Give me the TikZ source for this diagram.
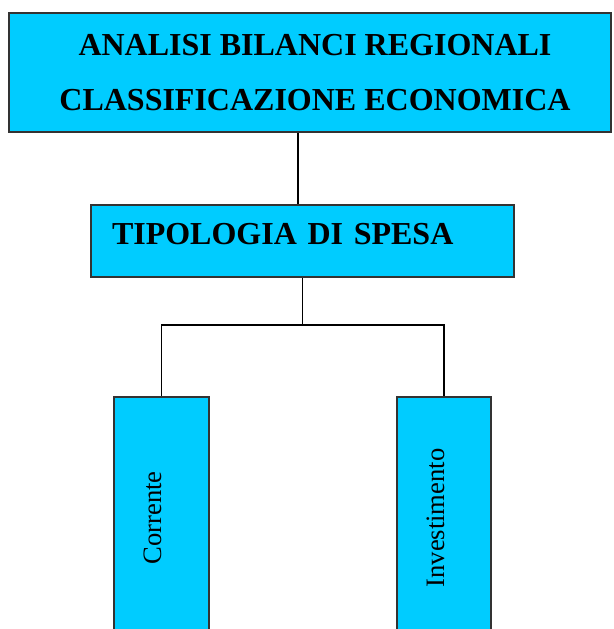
\documentclass[tikz,border=0pt]{standalone}
\usepackage{fontspec}
\setmainfont{Liberation Serif}
\definecolor{boxcyan}{RGB}{0,204,255}

\begin{document}
\begin{tikzpicture}[x=1pt,y=1pt,line width=1.5pt,
	box/.style={draw=black!80,fill=boxcyan,inner sep=0pt},
	title/.style={font=\fontsize{32}{55}\selectfont\bfseries},
	leaf/.style={box,rotate=90,minimum width=242,minimum height=95,font=\fontsize{26.6}{30}\selectfont,text height=10,text depth=10}]
					\clip (0,0) rectangle (613,629);
					\node[box,title,align=center,minimum width=602,minimum height=119] (analisi) at (310,556.5) {\hspace*{10pt}ANALISI BILANCI REGIONALI\\\hspace*{10pt}CLASSIFICAZIONE ECONOMICA};
					\node[box,title,align=left,text width=381,inner xsep=21,minimum height=72,text height=22,text depth=14] (tipo) at (302.5,388) {TIPOLOGIA DI SPESA};
					\node[leaf] (corr) at (161.5,111) {Corrente};
					\node[leaf,minimum height=94] (inv) at (444,111) {Investimento};
					\coordinate (split) at (302.5,304);
					\draw ([xshift=-4.5]tipo.north) -- ([xshift=-4.5]tipo.north |- analisi.south);
					\draw (tipo.south) -- (split);
					\draw (corr.east) |- (split) -| (inv.east);
\end{tikzpicture}
\end{document}
